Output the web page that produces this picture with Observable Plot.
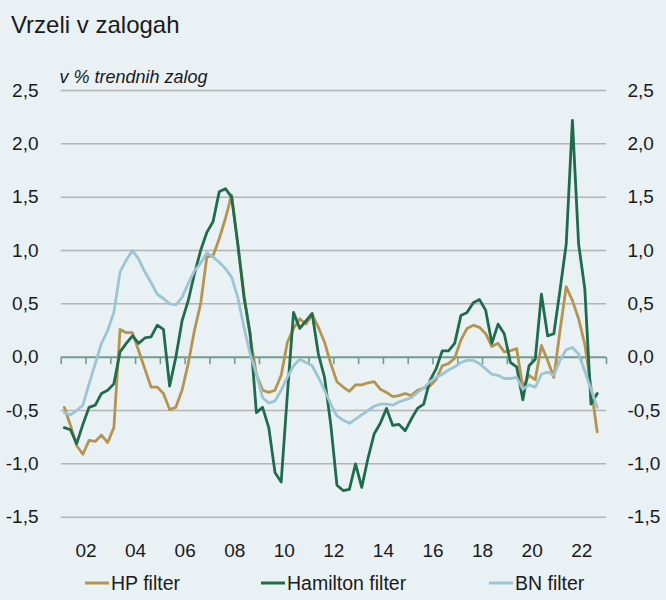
<!DOCTYPE html>
<html><head><meta charset="utf-8">
<script src="https://cdn.jsdelivr.net/npm/d3@7"></script>
<script src="https://cdn.jsdelivr.net/npm/@observablehq/plot@0.6"></script>
<style>
html,body{margin:0;padding:0;background:#e9f1f5;}
#chart{width:666px;height:600px;position:relative;background:#e9f1f5;}
</style></head><body><div id="chart"></div>
<script>
const startYear = 2001; // first quarter 2001Q1, quarterly data to 2022Q3
const seriesNames = ["HP filter", "Hamilton filter", "BN filter"];
const colors = ["#b59450", "#1f6b4b", "#9cc5d3"];

const hp = [-0.47,-0.64,-0.83,-0.91,-0.78,-0.79,-0.73,-0.80,-0.66,0.26,
  0.23,0.23,0.06,-0.11,-0.28,-0.28,-0.34,-0.49,-0.47,-0.31,
  -0.06,0.25,0.50,0.94,0.95,1.11,1.30,1.52,1.06,0.59,
  0.19,-0.16,-0.31,-0.33,-0.31,-0.17,0.14,0.27,0.36,0.31,
  0.40,0.28,0.14,-0.06,-0.23,-0.28,-0.32,-0.26,-0.26,-0.24,
  -0.23,-0.30,-0.33,-0.37,-0.36,-0.34,-0.36,-0.31,-0.29,-0.27,
  -0.21,-0.08,-0.06,-0.01,0.16,0.27,0.30,0.28,0.22,0.10,
  0.13,0.05,0.06,0.08,-0.28,-0.17,-0.21,0.11,-0.03,-0.19,
  0.25,0.66,0.53,0.36,0.12,-0.28,-0.70];

const hamilton = [-0.66,-0.68,-0.81,-0.63,-0.47,-0.45,-0.34,-0.31,-0.25,0.05,
  0.13,0.20,0.13,0.18,0.19,0.30,0.26,-0.27,0.00,0.34,
  0.53,0.78,1.00,1.17,1.27,1.55,1.58,1.50,1.06,0.56,
  0.22,-0.52,-0.47,-0.66,-1.08,-1.17,-0.35,0.42,0.27,0.34,
  0.41,0.03,-0.19,-0.63,-1.20,-1.25,-1.24,-1.00,-1.22,-0.95,
  -0.72,-0.62,-0.48,-0.64,-0.63,-0.69,-0.58,-0.48,-0.44,-0.22,
  -0.11,0.06,0.06,0.13,0.39,0.42,0.51,0.54,0.44,0.13,
  0.31,0.22,-0.05,-0.09,-0.40,-0.08,-0.02,0.59,0.20,0.22,
  0.63,1.06,2.22,1.06,0.64,-0.44,-0.34];

const bn = [-0.52,-0.54,-0.50,-0.45,-0.25,-0.06,0.13,0.25,0.42,0.80,
  0.91,1.00,0.92,0.80,0.70,0.59,0.55,0.50,0.49,0.56,
  0.69,0.81,0.88,0.98,0.94,0.89,0.83,0.75,0.56,0.28,
  0.03,-0.16,-0.38,-0.43,-0.41,-0.31,-0.19,-0.08,-0.02,-0.05,
  -0.08,-0.19,-0.31,-0.44,-0.55,-0.59,-0.62,-0.58,-0.54,-0.50,
  -0.46,-0.44,-0.44,-0.45,-0.42,-0.40,-0.38,-0.33,-0.29,-0.23,
  -0.19,-0.16,-0.12,-0.09,-0.05,-0.03,-0.03,-0.06,-0.11,-0.16,
  -0.17,-0.20,-0.20,-0.19,-0.30,-0.26,-0.28,-0.16,-0.14,-0.17,
  -0.03,0.07,0.09,0.03,-0.13,-0.30,-0.47];

const yTicks = [-1.5, -1, -0.5, 0, 0.5, 1, 1.5, 2, 2.5];
const yearTicks = d3.range(2001, 2024);
const labelYears = d3.range(2002, 2023, 2);
const title = "Vrzeli v zalogah";
const subtitle = "v % trendnih zalog";

const rows = [];
[hp, hamilton, bn].forEach((arr, s) =>
  arr.forEach((v, i) => rows.push({series: seriesNames[s], x: startYear + i / 4 + 0.125, v})));

const fmt = d => d3.format(".1f")(d).replace(".", ",").replace("\u2212", "-");
const font = "'Liberation Sans', Arial, sans-serif";

// small downward tick on the zero line
const tickSymbol = {draw(ctx) { ctx.moveTo(0, 0); ctx.lineTo(0, 7); }};

const plot = Plot.plot({
  width: 666, height: 600,
  marginTop: 90, marginBottom: 83.3, marginLeft: 60.7, marginRight: 60,
  style: {background: "transparent", fontFamily: font, fontSize: "19px", color: "#1a1a1a"},
  x: {domain: [2001, 2023]},
  y: {domain: [-1.5, 2.5]},
  color: {domain: seriesNames, range: colors},
  marks: [
    Plot.ruleY(yTicks.filter(d => d !== 0), {stroke: "#b4b4b4", strokeWidth: 1.5}),
    Plot.ruleY([0], {stroke: "#6d9e8d", strokeWidth: 2}),
    Plot.dot(yearTicks, {x: d => d, y: () => 0, symbol: tickSymbol, stroke: "#6d9e8d", strokeWidth: 1.6, fill: "none"}),
    Plot.lineY(rows, {x: "x", y: "v", z: "series", stroke: "series", strokeWidth: 2.8}),
    Plot.axisY({anchor: "left", ticks: yTicks, tickFormat: fmt, tickSize: 0, tickPadding: 22.7, label: null}),
    Plot.axisY({anchor: "right", ticks: yTicks, tickFormat: fmt, tickSize: 0, tickPadding: 21, label: null}),
    Plot.axisX({anchor: "bottom", ticks: labelYears, tickFormat: d => String(d).slice(2), tickSize: 0, tickPadding: 26, label: null})
  ]
});

const svg = d3.select(plot);
svg.append("text").attr("x", 11).attr("y", 33).attr("font-size", 24).attr("text-anchor", "start")
  .attr("fill", "#1a1a1a").text(title);
svg.append("text").attr("x", 59.5).attr("y", 83).attr("font-size", 18).attr("font-style", "italic")
  .attr("text-anchor", "start").attr("fill", "#1a1a1a").text(subtitle);

const legendPos = [85, 261, 489];
seriesNames.forEach((name, k) => {
  const g = svg.append("g");
  g.append("line").attr("x1", legendPos[k]).attr("x2", legendPos[k] + 24).attr("y1", 583).attr("y2", 583)
    .attr("stroke", colors[k]).attr("stroke-width", 3);
  g.append("text").attr("x", legendPos[k] + 26).attr("y", 590).attr("font-size", 19.5).attr("text-anchor", "start")
    .attr("fill", "#1a1a1a").text(name);
});

document.getElementById("chart").appendChild(plot);
</script></body></html>
